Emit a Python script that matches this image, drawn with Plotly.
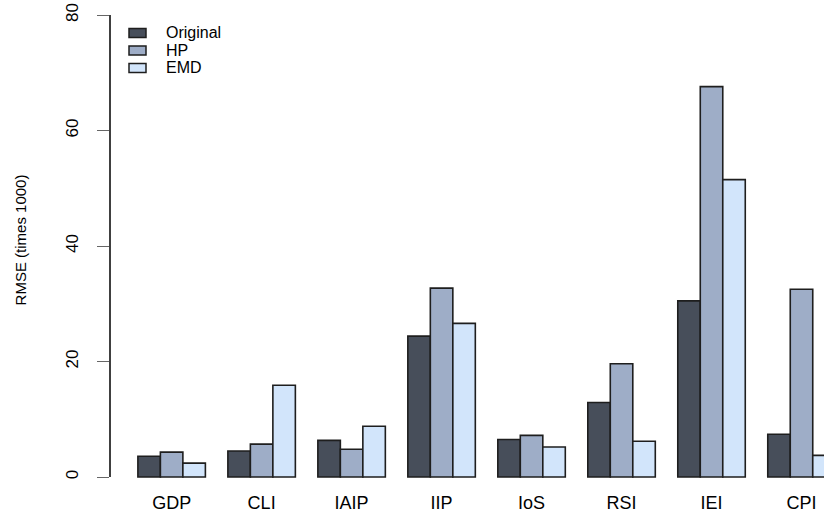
import plotly.graph_objects as go

# RMSE (times 1000) per indicator and filtering method
categories = ["GDP", "CLI", "IAIP", "IIP", "IoS", "RSI", "IEI", "CPI"]
original = [3.6, 4.5, 6.35, 24.4, 6.5, 12.9, 30.5, 7.4]
hp = [4.3, 5.7, 4.8, 32.7, 7.2, 19.6, 67.6, 32.5]
emd = [2.4, 15.9, 8.8, 26.6, 5.2, 6.2, 51.5, 3.75]

series = [
    ("Original", original, "#474e5a"),
    ("HP", hp, "#9eadc7"),
    ("EMD", emd, "#d2e5fb"),
]
y_ticks = [0, 20, 40, 60, 80]

FONT = "Liberation Sans, Arial, sans-serif"

fig = go.Figure()
for name, vals, color in series:
    fig.add_trace(go.Bar(
        x=categories, y=vals, name=name,
        marker=dict(color=color, line=dict(color="#1e1e1e", width=1.6)),
        showlegend=False,
    ))

# legend drawn as boxes + labels in the upper left corner
for k, (name, vals, color) in enumerate(series):
    yc = 33 + k * 17.5
    fig.add_shape(type="rect", xref="paper", yref="paper",
                  x0=(129 - 110) / 714, x1=(146 - 110) / 714,
                  y0=1 - (yc + 4.5) / 480, y1=1 - (yc - 4.5) / 480,
                  fillcolor=color, line=dict(color="#1e1e1e", width=1.5))
    fig.add_annotation(xref="paper", yref="paper",
                       x=(164 - 110) / 714, y=1 - yc / 480,
                       text=name, showarrow=False, xanchor="left", yanchor="middle",
                       font=dict(family=FONT, size=16, color="#000000"))

# y axis line from 0 to 80 only
fig.add_shape(type="line", xref="paper", yref="y", x0=0, x1=0, y0=0, y1=80,
              line=dict(color="#000000", width=1.5))

fig.update_layout(
    width=824, height=514,
    margin=dict(l=110, r=0, t=0, b=34),
    paper_bgcolor="white", plot_bgcolor="white",
    barmode="group", bargap=0.25, bargroupgap=0,
    font=dict(family=FONT, size=16, color="#000000"),
    xaxis=dict(
        type="category", range=[-0.685, 7.25],
        showgrid=False, zeroline=False, showline=False, ticks="",
        tickfont=dict(size=18), ticklabelstandoff=10,
    ),
    yaxis=dict(
        range=[-0.52, 82.6], tickvals=y_ticks, ticktext=[str(v) for v in y_ticks],
        showgrid=False, zeroline=False, showline=False,
        ticks="outside", ticklen=12, tickcolor="#666666", tickwidth=1.2,
        tickangle=-90, tickfont=dict(size=17), ticklabelstandoff=12,
        title=dict(text="RMSE (times 1000)", font=dict(size=15), standoff=32),
    ),
)

fig.write_html("out.html")
